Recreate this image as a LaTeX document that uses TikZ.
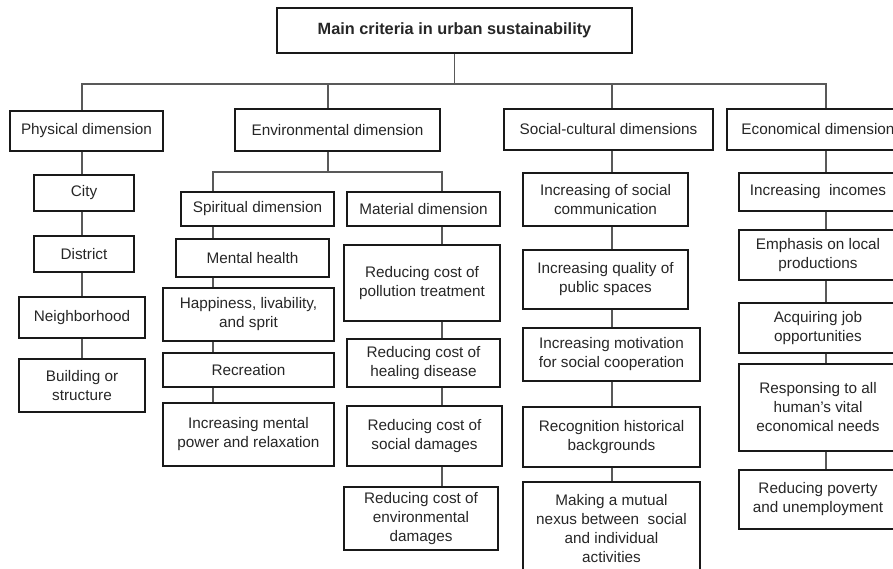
\documentclass[tikz,border=0pt]{standalone}
\usepackage{fontspec}
\setmainfont{Liberation Sans}

\begin{document}
\begin{tikzpicture}[x=1pt,y=-1pt,
  cbox/.style={draw=black!90,line width=1.1pt,inner sep=0pt,align=center,
    text=black!85,font=\fontsize{15.3}{19}\selectfont},
  sz/.style 2 args={minimum width=#1pt,minimum height=#2pt},
  wire/.style={draw=black!65,line width=1.1pt}]
\useasboundingbox (0,0) rectangle (893,569);
\clip (0,0) rectangle (893,569);

\node[cbox,sz={355}{45},font=\fontsize{16.3}{19}\selectfont\bfseries] (main) at (454.5,30.5) {Main criteria in urban sustainability};

\node[cbox,sz={153}{40}] (phys) at (86.5,131) {Physical dimension};
\node[cbox,sz={205}{42}] (env) at (337.5,130) {Environmental dimension};
\node[cbox,sz={209}{41}] (soc) at (608.5,129.5) {Social-cultural dimensions};
\node[cbox,sz={182}{41}] (eco) at (818,129.5) {Economical dimension};

\node[cbox,sz={100}{36}] (city) at (84,193) {City};
\node[cbox,sz={100}{36}] (dist) at (84,254) {District};
\node[cbox,sz={126}{41}] (neigh) at (82,317.5) {Neighborhood};
\node[cbox,sz={126}{53}] (build) at (82,385.5) {Building or\\structure};

\node[cbox,sz={153}{34}] (spir) at (257.5,209) {Spiritual dimension};
\node[cbox,sz={153}{38}] (ment) at (252.5,258) {Mental health};
\node[cbox,sz={171}{53}] (happ) at (248.5,314.5) {Happiness, livability,\\and sprit};
\node[cbox,sz={171}{34}] (recr) at (248.5,370) {Recreation};
\node[cbox,sz={171}{63}] (incm) at (248.5,434.5) {Increasing mental\\power and relaxation};

\node[cbox,sz={153}{34}] (mat) at (423.5,209) {Material dimension};
\node[cbox,sz={156}{76}] (poll) at (422,283) {Reducing cost of\\pollution treatment};
\node[cbox,sz={153}{48}] (heal) at (423.5,363) {Reducing cost of\\healing disease};
\node[cbox,sz={155}{60}] (sdam) at (424.5,436) {Reducing cost of\\social damages};
\node[cbox,sz={154}{63}] (edam) at (421,518.5) {Reducing cost of\\environmental\\damages};

\node[cbox,sz={165}{53}] (soc1) at (605.5,199.5) {Increasing of social\\communication};
\node[cbox,sz={165}{59}] (soc2) at (605.5,279.5) {Increasing quality of\\public spaces};
\node[cbox,sz={177}{53}] (soc3) at (611.5,354.5) {Increasing motivation\\for social cooperation};
\node[cbox,sz={177}{60}] (soc4) at (611.5,437) {Recognition historical\\backgrounds};
\node[cbox,sz={177}{93}] (soc5) at (611.5,528.5) {Making a mutual\\nexus between~ social\\and individual\\activities};

\node[cbox,sz={158}{38}] (eco1) at (818,192) {Increasing~ incomes};
\node[cbox,sz={158}{50}] (eco2) at (818,255) {Emphasis on local\\productions};
\node[cbox,sz={158}{50}] (eco3) at (818,328) {Acquiring job\\opportunities};
\node[cbox,sz={158}{87}] (eco4) at (818,407.5) {Responsing to all\\human's vital\\economical needs};
\node[cbox,sz={158}{59}] (eco5) at (818,499.5) {Reducing poverty\\and unemployment};

% bus lines and column spines
\coordinate (bus) at (0,84);
\coordinate (envbus) at (0,172);
\coordinate (physx) at (82,0);
\coordinate (envx) at (328,0);
\coordinate (spirx) at (213,0);
\coordinate (matx) at (442,0);
\coordinate (socx) at (612,0);
\coordinate (ecox) at (826,0);

\draw[wire] (main.south) -- (main.south |- bus);
\draw[wire] (phys.north -| physx) -- (bus -| physx) -- (bus -| ecox) -- (eco.north -| ecox);
\foreach \n/\c in {env/envx,soc/socx}
  \draw[wire] (bus -| \c) -- (\n.north -| \c);

\draw[wire] (env.south -| envx) -- (envbus -| envx);
\draw[wire] (spir.north -| spirx) -- (envbus -| spirx) -- (envbus -| matx) -- (mat.north -| matx);

\foreach \a/\b in {phys/city,city/dist,dist/neigh,neigh/build}
  \draw[wire] (\a.south -| physx) -- (\b.north -| physx);
\foreach \a/\b in {spir/ment,ment/happ,happ/recr,recr/incm}
  \draw[wire] (\a.south -| spirx) -- (\b.north -| spirx);
\foreach \a/\b in {mat/poll,poll/heal,heal/sdam,sdam/edam}
  \draw[wire] (\a.south -| matx) -- (\b.north -| matx);
\foreach \a/\b in {soc/soc1,soc1/soc2,soc2/soc3,soc3/soc4,soc4/soc5}
  \draw[wire] (\a.south -| socx) -- (\b.north -| socx);
\foreach \a/\b in {eco/eco1,eco1/eco2,eco2/eco3,eco3/eco4,eco4/eco5}
  \draw[wire] (\a.south -| ecox) -- (\b.north -| ecox);
\end{tikzpicture}
\end{document}
